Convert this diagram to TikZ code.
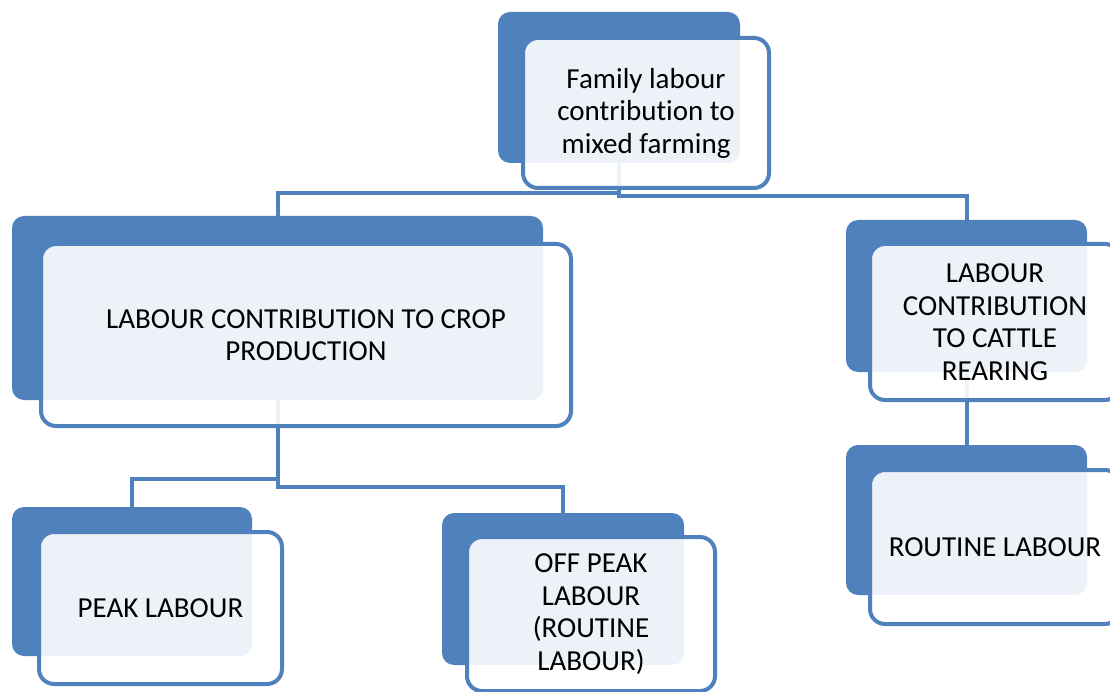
\documentclass[tikz,border=0pt]{standalone}
\usepackage{fontspec}
\setmainfont{Carlito}[Ligatures=NoCommon]
\definecolor{accent}{HTML}{4F81BD}
\tikzset{
  backbox/.style={fill=accent, rounded corners=12pt, inner sep=0pt},
  frontbox/.style={draw=accent, line width=4pt, fill=white, fill opacity=0.9,
    text opacity=1, rounded corners=15pt, inner sep=0pt, align=center,
    font=\fontsize{29}{32.5}\selectfont},
  link/.style={draw=accent, line width=4pt}
}

\begin{document}
\begin{tikzpicture}[x=1pt, y=-1pt]
  \useasboundingbox (0,0) rectangle (1110,692);
  % back plates
  \node[backbox, minimum width=242, minimum height=151] (TB) at (619, 87.5) {};
  \node[backbox, minimum width=531, minimum height=184] (CB) at (277.5, 308) {};
  \node[backbox, minimum width=241, minimum height=152] (RB) at (966.5, 296) {};
  \node[backbox, minimum width=240, minimum height=149] (PB) at (132, 581.5) {};
  \node[backbox, minimum width=242, minimum height=152] (OB) at (563, 589) {};
  \node[backbox, minimum width=241, minimum height=150] (UB) at (966.5, 520) {};
  % connectors
  \draw[link] (TB.south) -- ++(0,30) -| (CB.north);
  \draw[link] (TB.south) -- ++(0,33) -| (RB.north);
  \draw[link] (CB.south) -- ++(0,79) -| (PB.north);
  \draw[link] (CB.south) -- ++(0,87) -| (OB.north);
  \draw[link] (RB.south) -- (UB.north);
  % front boxes
  \node[frontbox, minimum width=246, minimum height=150] (T) at (646, 113)
    {Family labour\\contribution to\\mixed farming};
  \node[frontbox, minimum width=530, minimum height=182] (C) at (306, 335)
    {LABOUR CONTRIBUTION TO CROP\\PRODUCTION};
  \node[frontbox, minimum width=250, minimum height=156] (R) at (995, 322)
    {LABOUR\\CONTRIBUTION\\TO CATTLE\\REARING};
  \node[frontbox, minimum width=243, minimum height=152] (P) at (160.5, 608)
    {PEAK LABOUR};
  \node[frontbox, minimum width=248, minimum height=154] (O) at (591, 614)
    {OFF PEAK\\LABOUR\\(ROUTINE\\LABOUR)};
  \node[frontbox, minimum width=250, minimum height=154] (U) at (995, 547)
    {ROUTINE LABOUR};
\end{tikzpicture}
\end{document}
